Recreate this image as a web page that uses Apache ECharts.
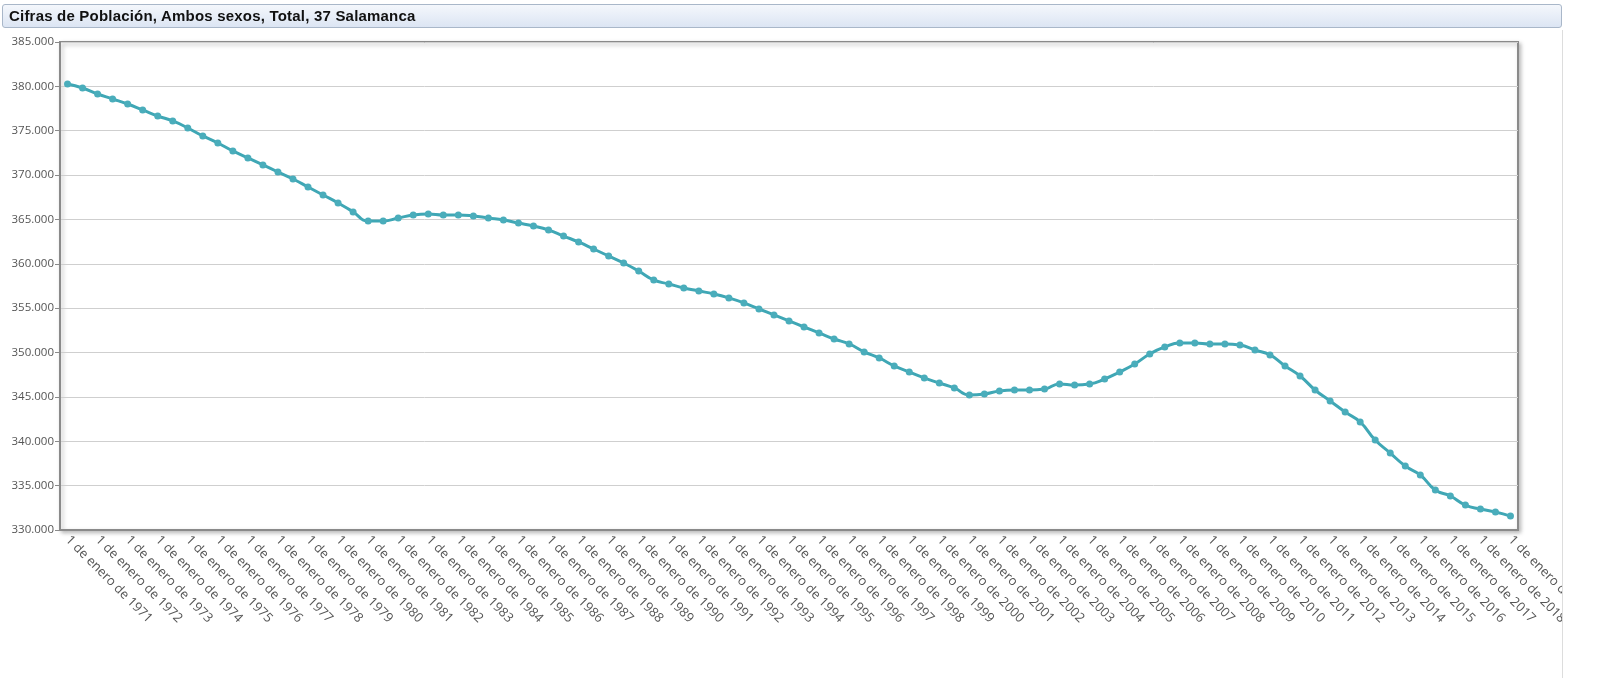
<!DOCTYPE html>
<html>
<head>
<meta charset="utf-8">
<script src="https://cdn.jsdelivr.net/npm/echarts@6/dist/echarts.min.js"></script>
<style>
  body { margin: 0; background: #fff; }
  #chart { position: absolute; left: 0; top: 0; width: 1600px; height: 678px; }
  #title {
    position: absolute; left: 2px; top: 4px; width: 1552px; height: 22px;
    border: 1px solid #a9b7c9; border-radius: 3px;
    background: linear-gradient(#f4f7fc, #dce5f3);
    font: bold 15px "Liberation Sans", Arial, sans-serif; color: #111;
    line-height: 22px; padding-left: 6px; letter-spacing: 0.2px;
  }
  #edge {
    position: absolute; left: 1562px; top: 30px; width: 38px; height: 648px;
    background: #fff; border-left: 1px solid #ddd;
  }
</style>
</head>
<body>
<div id="chart"></div>
<div id="title">Cifras de Población, Ambos sexos, Total, 37 Salamanca</div>
<div id="edge"></div>
<script>
const years = [];
for (let y = 1971; y <= 2019; y++) {
  years.push("1 de enero de " + y);
  if (y < 2019) years.push("1 de julio de " + y);
}

const population = [
  380270, 379820, 379140, 378580, 378010, 377340, 376660, 376100, 375310, 374410,
  373620, 372720, 371930, 371140, 370350, 369560, 368660, 367760, 366860, 365850,
  364830, 364830, 365160, 365500, 365610, 365500, 365500, 365390, 365160, 364940,
  364600, 364260, 363810, 363130, 362460, 361670, 360880, 360090, 359190, 358180,
  357730, 357280, 356940, 356600, 356150, 355590, 354910, 354240, 353560, 352880,
  352210, 351530, 350970, 350070, 349390, 348490, 347810, 347140, 346570, 346010,
  345220, 345330, 345670, 345780, 345780, 345890, 346460, 346340, 346460, 347020,
  347810, 348710, 349840, 350630, 351080, 351080, 350970, 350970, 350850, 350290,
  349730, 348490, 347360, 345780, 344540, 343300, 342170, 340140, 338670, 337210,
  336200, 334500, 333830, 332810, 332360, 332020, 331570
];

function fmt(v) {
  return String(v).replace(/\B(?=(\d{3})+(?!\d))/g, ".");
}

const chart = echarts.init(document.getElementById("chart"));
chart.setOption({
  animation: false,
  grid: {
    left: 60, right: 82, top: 42, bottom: 148,
    show: true, borderColor: "#8a8a8a", borderWidth: 2,
    shadowColor: "rgba(0,0,0,0.25)", shadowBlur: 4, shadowOffsetX: 2, shadowOffsetY: 2,
    backgroundColor: "#fff"
  },
  xAxis: {
    type: "category",
    data: years,
    boundaryGap: true,
    axisLine: { lineStyle: { color: "#8a8a8a", width: 2 } },
    axisTick: { interval: 0, length: 4, lineStyle: { color: "#aaa" } },
    axisLabel: {
      interval: 1, rotate: -45, color: "#555", fontSize: 13,
      fontFamily: "Open Sans", margin: 8
    }
  },
  yAxis: {
    type: "value",
    min: 330000, max: 385000, interval: 5000,
    axisLine: { show: true, lineStyle: { color: "#8a8a8a", width: 2 } },
    axisTick: { show: true, length: 5, lineStyle: { color: "#8a8a8a" } },
    axisLabel: { color: "#555", fontSize: 11.5, fontFamily: "Open Sans", margin: 6, formatter: fmt },
    splitLine: { lineStyle: { color: "#cfcfcf" } }
  },
  series: [{
    type: "line",
    data: population,
    smooth: true,
    symbol: "circle",
    symbolSize: 7,
    lineStyle: { color: "#3fa7b5", width: 3 },
    itemStyle: { color: "#4aadbb" }
  }]
});
</script>
</body>
</html>
